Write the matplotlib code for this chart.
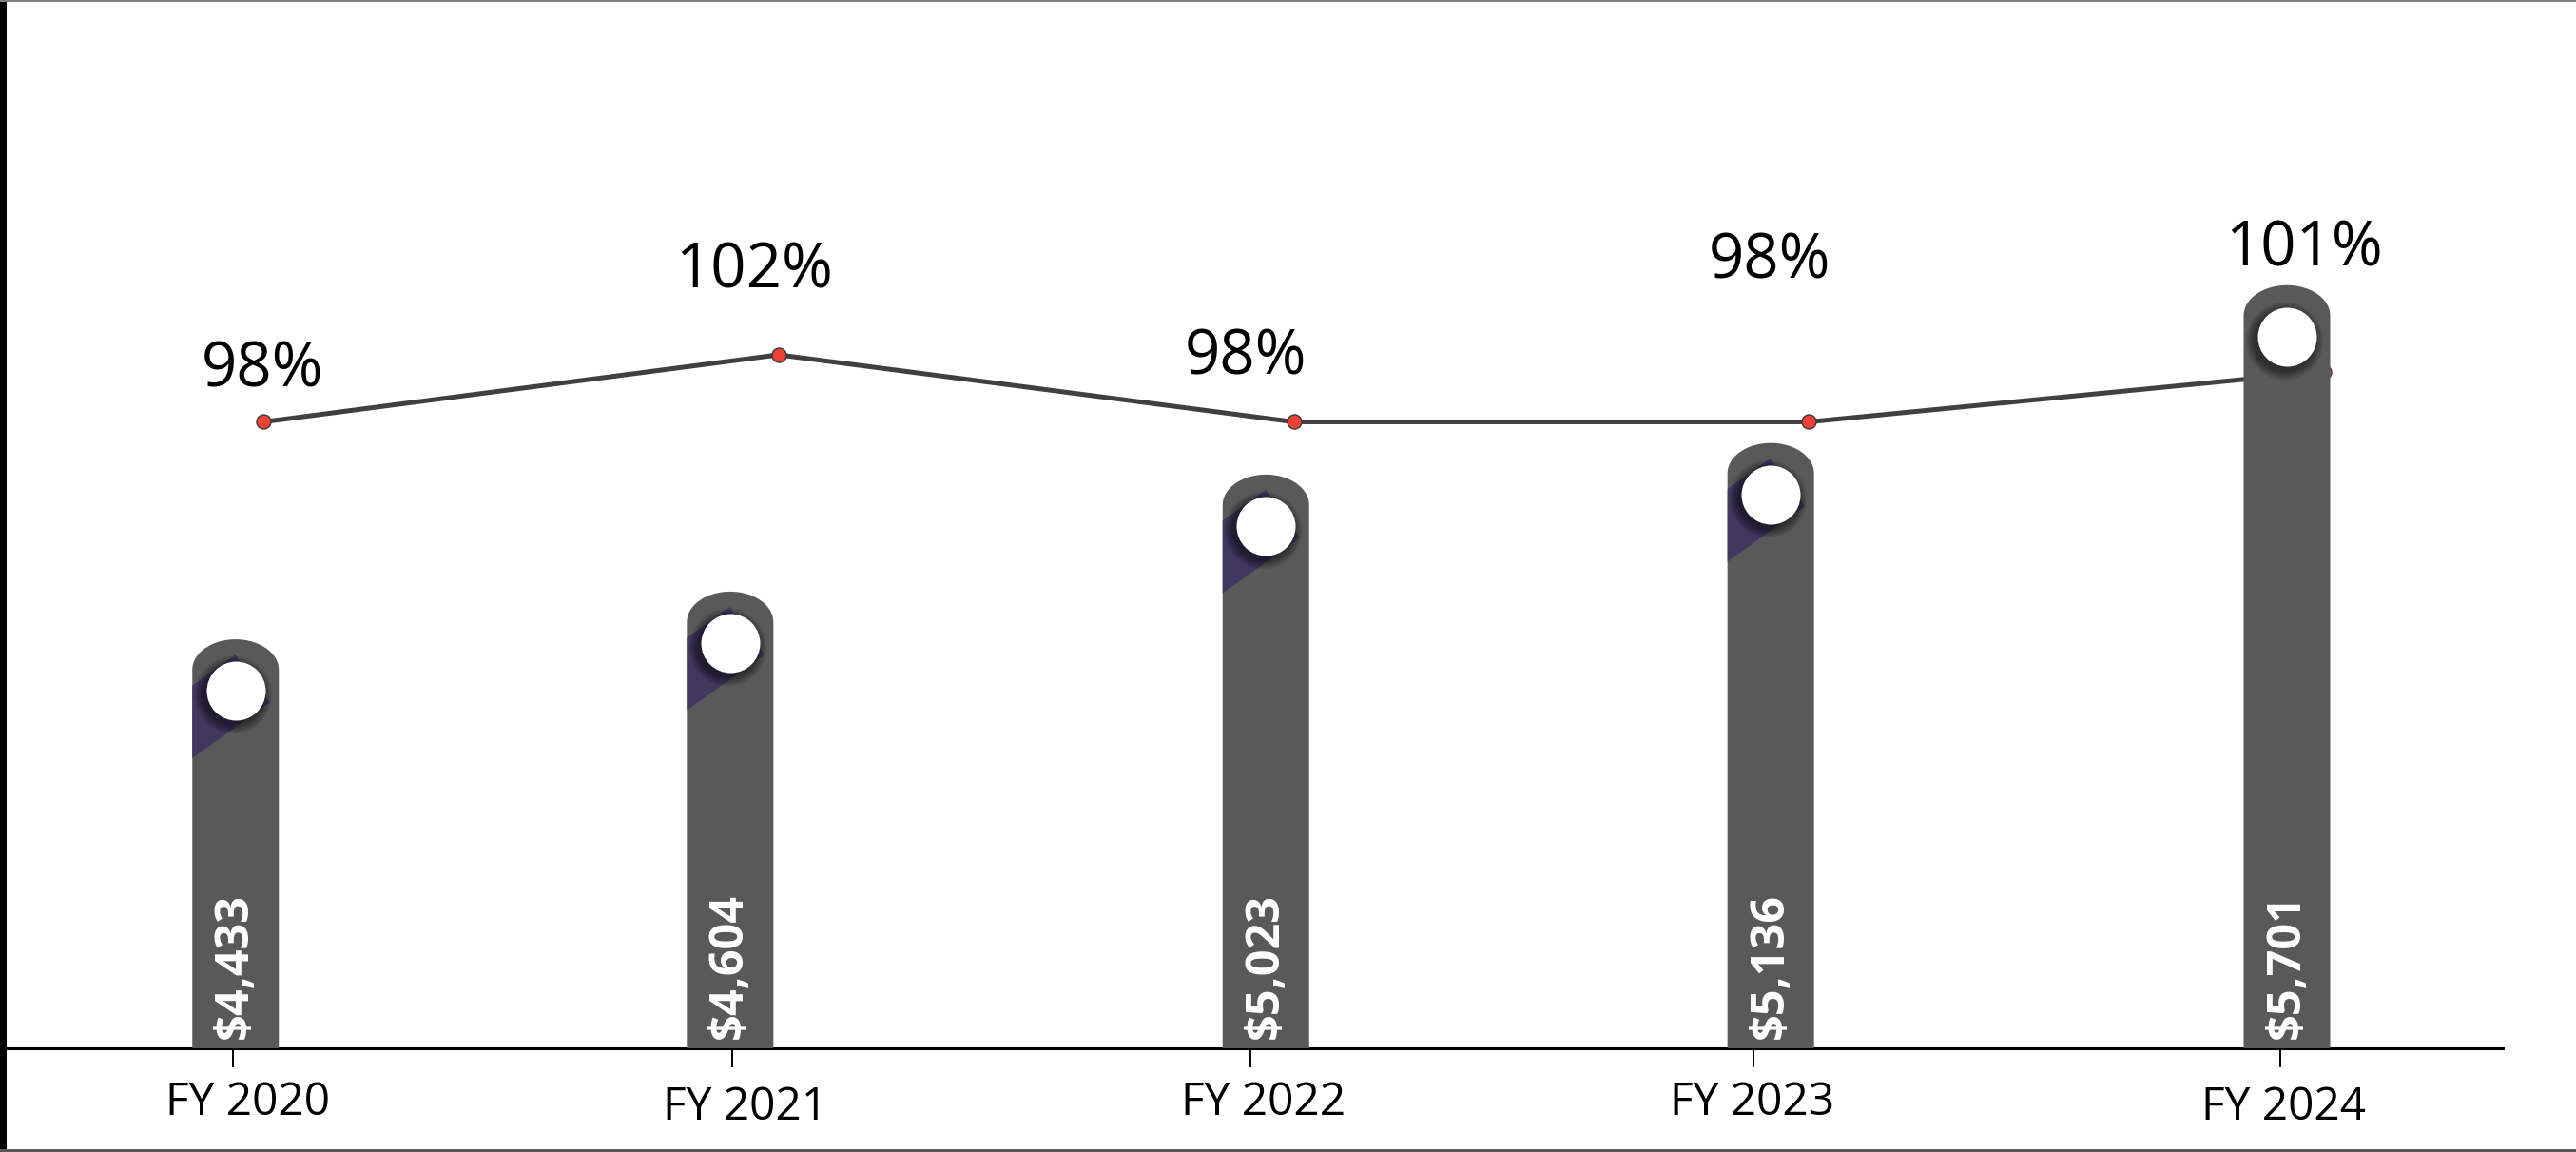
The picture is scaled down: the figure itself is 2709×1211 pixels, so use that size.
import numpy as np
import matplotlib.pyplot as plt
from matplotlib.patches import Polygon, Rectangle
from matplotlib.transforms import offset_copy, ScaledTranslation

plt.rcParams['font.family'] = ['Open Sans', 'DejaVu Sans']

#%% data
years = ['FY 2020', 'FY 2021', 'FY 2022', 'FY 2023', 'FY 2024']
revenue = [4433, 4604, 5023, 5136, 5701]      # $ bars
ratio = [98, 102, 98, 98, 101]                # % line

#%% layout
bar_pos = [-0.054, 0.906, 1.946, 2.926, 3.928]      # pins sit a little left of the line points
tick_pos = [-0.059, 0.910, 1.916, 2.893, 3.915]
tick_nudge = [(15, 0), (14, -5), (14, 0), (-2, 0), (4, -5)]   # px
pct_offsets = [(-1, 37), (-26, 70), (-51, 50), (-41, 151), (-21, 111)]  # px, to text baseline
long_shadow = [True, True, True, True, False]

W, H = 2709, 1211
fig = plt.figure(figsize=(W / 100, H / 100), dpi=100)
ax_line = fig.add_axes([0, (H - 1102) / H, 2632 / W, 1102 / H])
ax_line.set_xlim(-0.5113, 4.347)
ax_line.set_ylim(60.64, 123.16)
ax_bar = ax_line.twinx()
ax_bar.set_ylim(2969, 6722)

px_x = 541.75                   # pixels per category step
px_y = 1102 / (6722 - 2969)     # pixels per dollar

bar_col = '#595959'
bw = 91 / px_x
cap_h = 32 / px_y
r = 31

# percentage line, kept under the pins
ax_line.plot(range(len(ratio)), ratio, color='#404040', lw=3.6, marker='o', ms=10.8,
             mfc='#ea4335', mec='#3a3a3a', mew=1, zorder=2)
for i, (p, (dx, dy)) in enumerate(zip(ratio, pct_offsets)):
    ax_line.annotate(f'{p}%', xy=(i, p), xytext=(dx, dy), textcoords='offset pixels',
                     ha='center', va='baseline', fontsize=47, color='black')

# pins
u = np.array([-0.813, -0.582])
n = np.array([0.582, -0.813])
halo = offset_copy(ax_bar.transData, fig=fig, x=-3, y=-4, units='dots')
base = ax_bar.get_ylim()[0]
t = np.linspace(np.pi, 0, 80)
for x, v, sh in zip(bar_pos, revenue, long_shadow):
    xs = np.concatenate([[x - bw / 2], x + bw / 2 * np.cos(t), [x + bw / 2]])
    ys = np.concatenate([[base], (v - cap_h) + cap_h * np.sin(t), [base]])
    pin = Polygon(np.column_stack([xs, ys]), closed=True, facecolor=bar_col,
                  edgecolor='none', zorder=2)
    ax_bar.add_patch(pin)

    cy = v - 54 / px_y
    if sh:
        corners = [22 * -u + r * n, 22 * -u - r * n, 170 * u - r * n, 170 * u + r * n]
        pts = [(x + c[0] / px_x, cy + c[1] / px_y) for c in corners]
        shade = Polygon(pts, closed=True, facecolor='#41375f', edgecolor='none', zorder=3)
        ax_bar.add_patch(shade)
        shade.set_clip_path(pin)

    for k in range(8):
        h, = ax_bar.plot(x, cy, 'o', ms=(2 * r + 2 + 2.5 * k) / 1.389, color='black',
                         alpha=0.07, mec='none', transform=halo, zorder=4)
        h.set_clip_path(pin)
    ax_bar.plot(x, cy, 'o', ms=2 * r / 1.389, color='white', mec='none', zorder=5)

    ax_bar.annotate(f'${v:,}', xy=(x, 0), xycoords=ax_bar.get_xaxis_transform(),
                    xytext=(0, 10), textcoords='offset pixels', rotation=90,
                    ha='center', va='bottom', fontsize=35, fontweight='bold',
                    color='white', zorder=6)

# axes styling
ax_line.set_xticks(tick_pos, years)
ax_line.tick_params(axis='x', length=14.4, width=1.4, pad=10, labelsize=34.5,
                    color='black', labelcolor='black')
for lab, (dx, dy) in zip(ax_line.get_xticklabels(), tick_nudge):
    lab.set_transform(lab.get_transform() +
                      ScaledTranslation(dx / 100, dy / 100, fig.dpi_scale_trans))
ax_line.tick_params(axis='y', left=False, labelleft=False)
ax_bar.tick_params(axis='y', right=False, labelright=False)
for a in (ax_line, ax_bar):
    for s in ('left', 'right', 'top'):
        a.spines[s].set_visible(False)
ax_bar.spines['bottom'].set_visible(False)
ax_line.spines['bottom'].set_linewidth(2.2)
ax_line.spines['bottom'].set_color('black')

# frame around the picture
fig.patches.append(Rectangle((0, 0), 7 / W, 1, transform=fig.transFigure,
                             facecolor='black', edgecolor='none'))
fig.patches.append(Rectangle((0, 1 - 2 / H), 1, 2 / H, transform=fig.transFigure,
                             facecolor='#808080', edgecolor='none'))
fig.patches.append(Rectangle((0, 0), 1, 3 / H, transform=fig.transFigure,
                             facecolor='#595959', edgecolor='none'))

fig.savefig('out.png', dpi=100)
